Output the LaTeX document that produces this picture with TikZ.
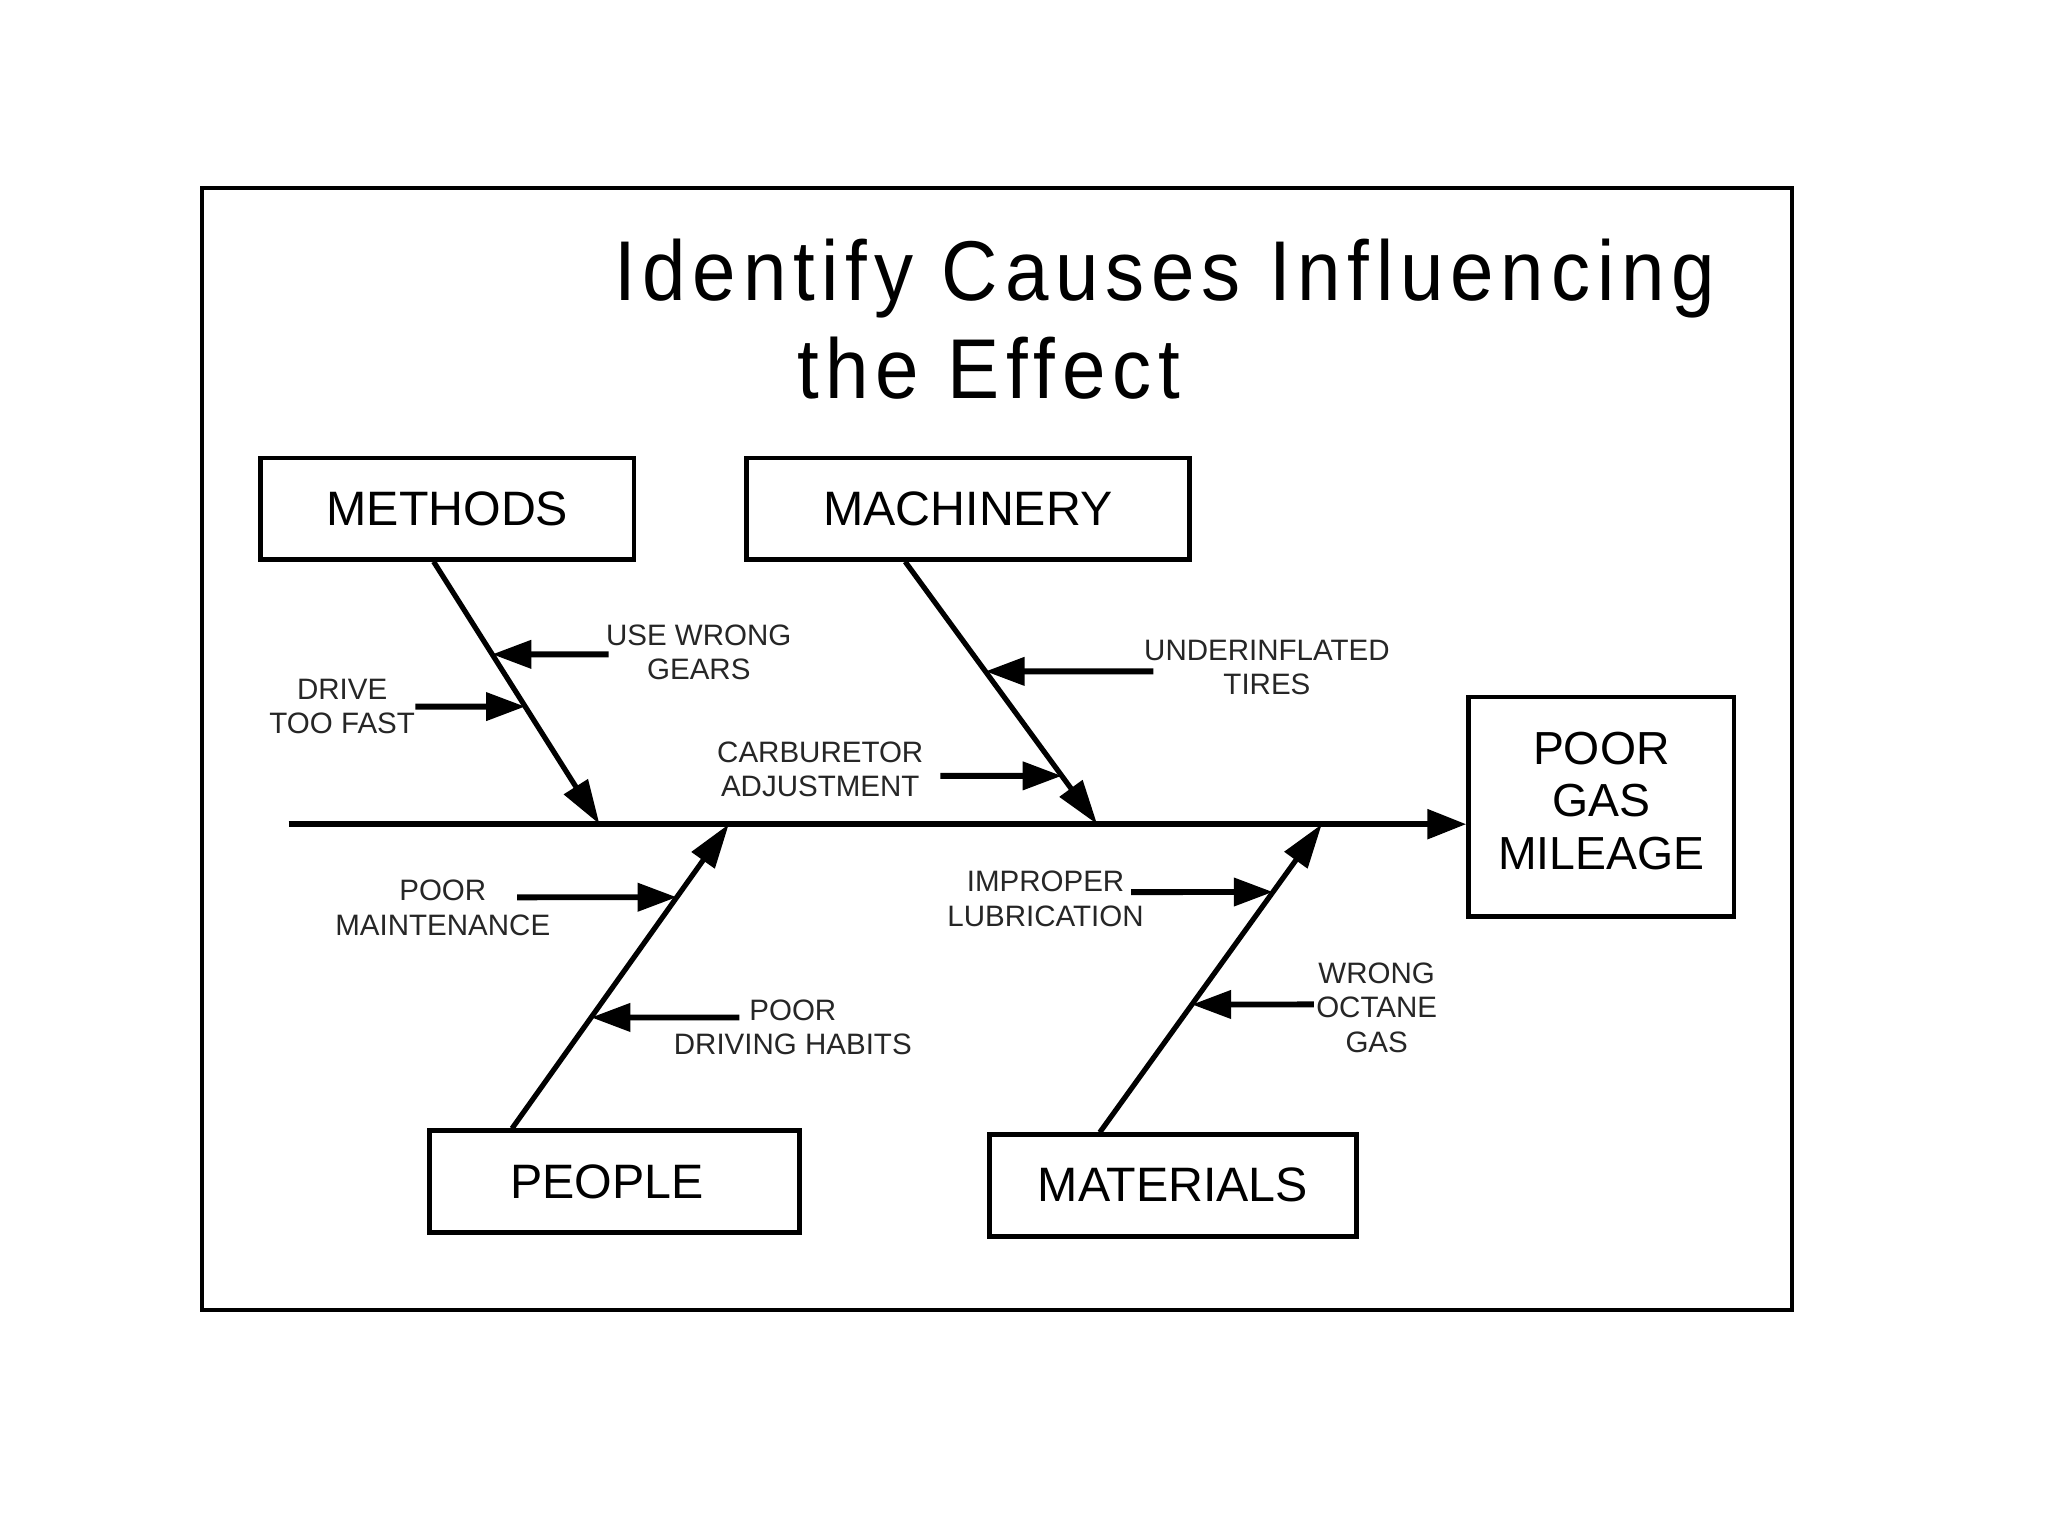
\documentclass[tikz,border=0pt]{standalone}
\usepackage{fontspec}
\setmainfont{Liberation Sans}
\newfontfamily\titlefont[FakeStretch=0.92, LetterSpace=8]{Liberation Sans}
\usetikzlibrary{arrows.meta,calc}
\begin{document}
\begin{tikzpicture}[x=1pt,y=-1pt,
  catbox/.style={draw, line width=3.5pt, inner sep=0pt, align=center,
    font=\fontsize{37}{40}\selectfont},
  cause/.style={inner sep=0pt, align=center, text=black!85,
    font=\fontsize{22.6}{26.5}\selectfont},
  titletext/.style={inner sep=0pt, font=\titlefont\fontsize{65}{75}\selectfont},
  bone/.style={line width=4pt, -{Triangle[length=34pt,width=21pt]}},
  spine/.style={line width=5pt, -{Triangle[length=30pt,width=22pt]}},
  subarrow/.style={line width=4.5pt, -{Triangle[length=30pt,width=21pt]}}]
\fill[white] (0,0) rectangle (1568,1176);
\useasboundingbox (0,0) rectangle (1568,1176);
\draw[line width=3pt] (155,144) rectangle (1372,1003);

% title
\node[titletext, anchor=base west] (t1) at (470,230) {Identify Causes Influencing};
\node[titletext, anchor=base west] (t2) at (610,305) {the Effect};

% category boxes
\node[catbox, minimum width=286pt, minimum height=78pt] (methods) at (342.5,389.5) {METHODS};
\node[catbox, minimum width=339pt, minimum height=78pt] (machinery) at (741,389.5) {MACHINERY};
\node[catbox, minimum width=283pt, minimum height=78pt] (people) at (470.5,904.5) {\hspace*{-12pt}PEOPLE};
\node[catbox, minimum width=281pt, minimum height=78pt] (materials) at (898,907.5) {MATERIALS};
\node[catbox, minimum width=203pt, minimum height=168pt, font=\fontsize{35.5}{40}\selectfont] (effect) at (1226,617.5) {\raisebox{4pt}{\begin{tabular}{@{}c@{}}POOR\\GAS\\MILEAGE\end{tabular}}};

% spine and bones
\coordinate (s0) at (221,631);
\coordinate (m0) at (332,430);
\coordinate (m1) at (459,631);
\coordinate (c0) at (693,430);
\coordinate (c1) at (840,631);
\coordinate (p0) at (392,864);
\coordinate (p1) at (558,631);
\coordinate (a0) at (842,867);
\coordinate (a1) at (1012,631);
\draw[spine] (s0) -- (s0 -| effect.west);
\draw[bone] (m0) -- (m1);
\draw[bone] (c0) -- (c1);
\draw[bone] (p0) -- (p1);
\draw[bone] (a0) -- (a1);

% cause labels
\node[cause] (gears) at (535,499.5) {USE WRONG\\GEARS};
\node[cause] (fast) at (262,541) {DRIVE\\TOO FAST};
\node[cause] (tires) at (970,511) {UNDERINFLATED\\TIRES};
\node[cause] (carb) at (628,589) {CARBURETOR\\ADJUSTMENT};
\node[cause] (maint) at (339,695) {POOR\\MAINTENANCE};
\node[cause] (habits) at (607,786.5) {POOR\\DRIVING HABITS};
\node[cause] (lube) at (800.5,688) {IMPROPER\\LUBRICATION};
\node[cause] (octane) at (1054,771.5) {WRONG\\OCTANE\\GAS};

% cause arrows
\coordinate (gears0) at (466,501);
\coordinate (fast0) at (318,541);
\coordinate (tires0) at (883,514);
\coordinate (carb0) at (720,594);
\coordinate (maint0) at (396,687);
\coordinate (habits0) at (566,779);
\coordinate (lube0) at (866,683);
\coordinate (octane0) at (1006,769);
\draw[subarrow] (gears0) -- ($(m0)!0.353!(m1)$);
\draw[subarrow] (fast0) -- ($(m0)!0.552!(m1)$);
\draw[subarrow] (tires0) -- ($(c0)!0.418!(c1)$);
\draw[subarrow] (carb0) -- ($(c0)!0.816!(c1)$);
\draw[subarrow] (maint0) -- ($(p0)!0.760!(p1)$);
\draw[subarrow] (habits0) -- ($(p0)!0.365!(p1)$);
\draw[subarrow] (lube0) -- ($(a0)!0.780!(a1)$);
\draw[subarrow] (octane0) -- ($(a0)!0.415!(a1)$);
\end{tikzpicture}
\end{document}
